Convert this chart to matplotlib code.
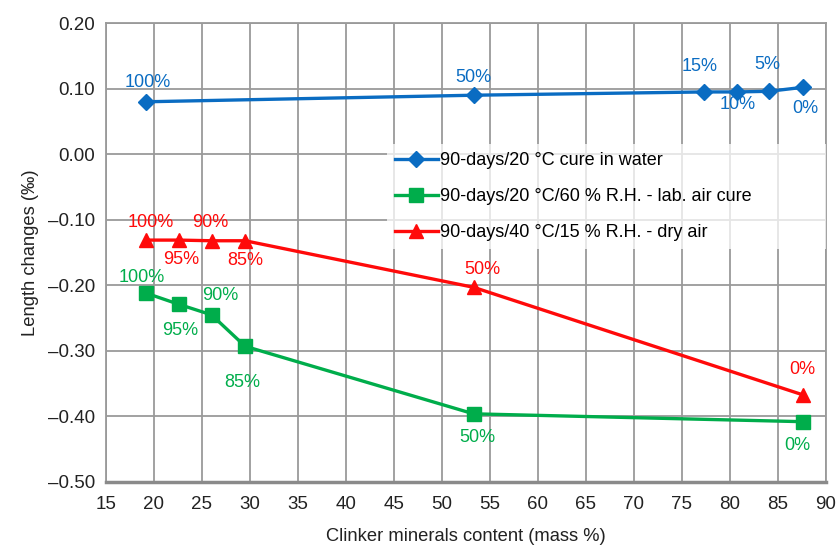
import matplotlib
matplotlib.use("Agg")
import matplotlib.pyplot as plt
from matplotlib.ticker import FixedLocator

plt.rcParams['font.family'] = ['Liberation Sans', 'DejaVu Sans']

# Data
x_water = [19.2, 53.3, 77.3, 80.7, 84.1, 87.6]
y_water = [0.080, 0.090, 0.095, 0.095, 0.096, 0.102]
lab_water = ["100%", "50%", "15%", "10%", "5%", "0%"]

x_lab = [19.2, 22.6, 26.0, 29.5, 53.3, 87.6]
y_lab = [-0.212, -0.229, -0.245, -0.293, -0.396, -0.408]
lab_lab = ["100%", "95%", "90%", "85%", "50%", "0%"]

x_dry = [19.2, 22.6, 26.0, 29.5, 53.3, 87.6]
y_dry = [-0.131, -0.131, -0.132, -0.132, -0.203, -0.367]
lab_dry = ["100%", "95%", "90%", "85%", "50%", "0%"]

series_names = ["90-days/20 °C cure in water",
                "90-days/20 °C/60 % R.H. - lab. air cure",
                "90-days/40 °C/15 % R.H. - dry air"]

x_ticks = [15, 20, 25, 30, 35, 40, 45, 50, 55, 60, 65, 70, 75, 80, 85, 90]
y_ticks = [0.20, 0.10, 0.00, -0.10, -0.20, -0.30, -0.40, -0.50]
y_tick_labels = ["0.20", "0.10", "0.00", "–0.10", "–0.20", "–0.30", "–0.40", "–0.50"]

c_blue = "#0A6CC2"
c_green = "#00AD4B"
c_red = "#FF0A0A"

fig = plt.figure(figsize=(8.37, 5.45), dpi=100)
ax = fig.add_axes([0.1266, 0.1156, 0.860, 0.842])

ax.plot(x_water, y_water, color=c_blue, lw=2.4, marker='D', ms=8, label=series_names[0], zorder=4)
ax.plot(x_lab, y_lab, color=c_green, lw=2.4, marker='s', ms=9.5, label=series_names[1], zorder=4)
ax.plot(x_dry, y_dry, color=c_red, lw=2.4, marker='^', ms=10, label=series_names[2], zorder=4)

ax.set_xlim(15, 90)
ax.set_ylim(-0.5, 0.2)
ax.xaxis.set_major_locator(FixedLocator(x_ticks))
ax.set_xticklabels([str(v) for v in x_ticks])
ax.yaxis.set_major_locator(FixedLocator(y_ticks))
ax.set_yticklabels(y_tick_labels)
ax.tick_params(axis='both', labelsize=13.5, length=0, colors='#222222')
ax.tick_params(axis='x', pad=10)
ax.tick_params(axis='y', pad=8)
ax.grid(True, color='#9a9a9a', lw=1.3, zorder=0)
for s in ['top', 'right', 'left']:
    ax.spines[s].set_color('#9a9a9a')
    ax.spines[s].set_linewidth(1.3)
ax.spines['bottom'].set_color('#8a8a8a')
ax.spines['bottom'].set_linewidth(2.5)

ax.set_xlabel("Clinker minerals content (mass %)", fontsize=13.2, color='#222222', labelpad=11)
ax.set_ylabel("Length changes (‰)", fontsize=13.2, color='#222222', labelpad=6)

def annotate(xs, ys, labels, offsets, color):
    for x, y, t, (dx, dy) in zip(xs, ys, labels, offsets):
        ax.annotate(t, (x, y), xytext=(dx, dy), textcoords='offset points',
                    ha='center', va='center', color=color, fontsize=13, zorder=5)

annotate(x_water, y_water, lab_water,
         [(1, 14), (0, 13), (-3, 18), (1, -9), (-1, 19), (2, -15)], c_blue)
annotate(x_dry, y_dry, lab_dry,
         [(3, 13), (2, -14), (-1, 13), (0, -14), (6, 13), (0, 18)], c_red)
annotate(x_lab, y_lab, lab_lab,
         [(-3, 11), (1, -19), (6, 14), (-2, -26), (3, -17), (-4, -17)], c_green)

leg = ax.legend(loc='upper left', bbox_to_anchor=(0.451, 0.752, 0.547, 0.0),
                bbox_transform=fig.transFigure, mode='expand',
                frameon=True, fontsize=13, handlelength=2.4, handletextpad=0.1,
                labelspacing=1.05, borderpad=0.45, fancybox=False)
leg.get_frame().set_facecolor('white')
leg.get_frame().set_alpha(0.75)
leg.get_frame().set_edgecolor('none')
leg.set_zorder(6)

fig.savefig("out.png", dpi=100)
